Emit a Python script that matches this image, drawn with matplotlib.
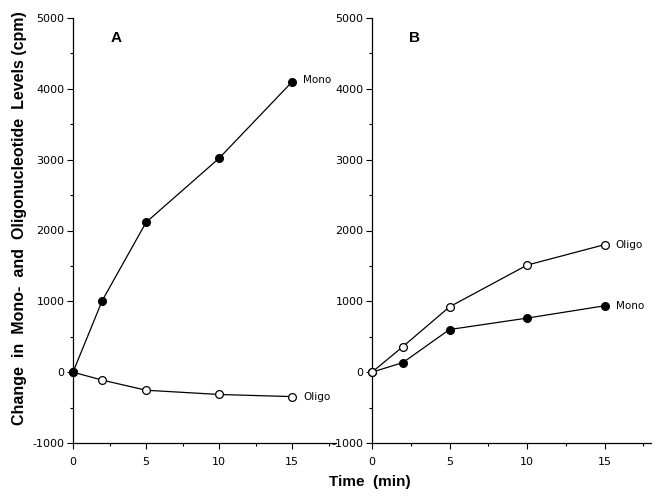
import matplotlib
matplotlib.use("Agg")
import matplotlib.pyplot as plt
from matplotlib.ticker import MultipleLocator

plt.rcParams["axes.unicode_minus"] = False

time = [0, 2, 5, 10, 15]
a_mono = [0, 1010, 2115, 3020, 4100]
a_oligo = [0, -112, -255, -315, -345]
b_mono = [0, 136, 602, 763, 937]
b_oligo = [0, 362, 922, 1511, 1800]

yticks = [-1000, 0, 1000, 2000, 3000, 4000, 5000]
xticks = [0, 5, 10, 15]

fig = plt.figure(figsize=(6.72, 5.0), dpi=100)
axA = fig.add_axes([73/672, 57/500, 263/672, 425/500])
axB = fig.add_axes([372/672, 57/500, 279/672, 425/500])

def style(ax):
    for s in ("top", "right"):
        ax.spines[s].set_visible(False)
    ax.spines["left"].set_linewidth(0.9)
    ax.spines["bottom"].set_linewidth(0.9)
    ax.set_xlim(0, 18)
    ax.set_ylim(-1000, 5000)
    ax.set_yticks(yticks)
    ax.set_xticks(xticks)
    ax.yaxis.set_minor_locator(MultipleLocator(500))
    ax.xaxis.set_minor_locator(MultipleLocator(2.5))
    ax.tick_params(which="major", direction="out", length=4, width=0.8,
                   labelsize=8)
    ax.tick_params(which="minor", direction="out", length=2, width=0.8)
    ax.tick_params(axis="x", pad=6)
    ax.tick_params(axis="y", pad=2)

def plot_series(ax, x, y, filled):
    ax.plot(x, y, color="black", lw=0.9, marker="o", ms=5.6,
            mfc="black" if filled else "white", mec="black", mew=0.9,
            clip_on=False, zorder=3)

style(axA)
style(axB)
plot_series(axA, time, a_oligo, False)
plot_series(axA, time, a_mono, True)
plot_series(axB, time, b_mono, True)
plot_series(axB, time, b_oligo, False)

fs = 7.5
axA.annotate("Mono", (time[-1], a_mono[-1]), xytext=(8, 1),
             textcoords="offset points", va="center", fontsize=fs)
axA.annotate("Oligo", (time[-1], a_oligo[-1]), xytext=(8, 0),
             textcoords="offset points", va="center", fontsize=fs)
axB.annotate("Oligo", (time[-1], b_oligo[-1]), xytext=(8, 0),
             textcoords="offset points", va="center", fontsize=fs)
axB.annotate("Mono", (time[-1], b_mono[-1]), xytext=(8, 0),
             textcoords="offset points", va="center", fontsize=fs)

axA.text(116/672, 462/500, "A", transform=fig.transFigure, fontsize=11,
         fontweight="bold", ha="center", va="center", family="Liberation Sans")
axB.text(415/672, 462/500, "B", transform=fig.transFigure, fontsize=11,
         fontweight="bold", ha="center", va="center", family="Liberation Sans")

fig.text(20/672, 282/500, "Change  in  Mono-  and  Oligonucleotide  Levels (cpm)",
         rotation=90, ha="center", va="center", fontsize=11.5,
         fontweight="bold", family="Liberation Sans")
fig.text(370/672, 18/500, "Time  (min)", ha="center", va="center",
         fontsize=11, fontweight="bold", family="Liberation Sans")

fig.savefig("out.png", dpi=100)
